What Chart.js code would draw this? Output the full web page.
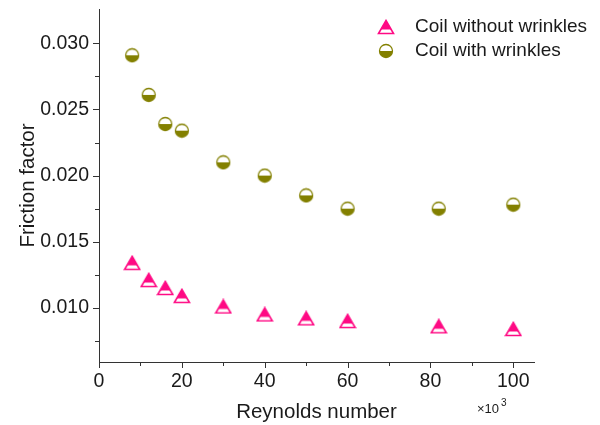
<!DOCTYPE html>
<html>
<head>
<meta charset="utf-8">
<script src="https://cdn.jsdelivr.net/npm/chart.js@4/dist/chart.umd.min.js"></script>
<style>
  html, body { margin: 0; padding: 0; background: #fff; }
  #wrap { width: 600px; height: 425px; position: relative; }
</style>
</head>
<body>
<div id="wrap"><canvas id="grafico" width="600" height="425"></canvas></div>
<script>
const reynolds = [8, 12, 16, 20, 30, 40, 50, 60, 82, 100];
const sinArrugas = [0.0134, 0.0121, 0.0115, 0.0109, 0.0101, 0.0095, 0.0092, 0.0090, 0.0086, 0.0084];
const conArrugas = [0.0291, 0.0261, 0.0239, 0.0234, 0.0210, 0.0200, 0.0185, 0.0175, 0.0175, 0.0178];
const series = ["Coil without wrinkles", "Coil with wrinkles"];

const rosa = "#ff0a84";
const oliva = "#838000";
const textoColor = "#1a1a1a";
const fuente = "'Liberation Sans', Arial, sans-serif";

// marcadores tipo Origin
function triangulo() {
  const c = document.createElement("canvas");
  c.width = 18; c.height = 16;
  const g = c.getContext("2d");
  g.beginPath();
  g.moveTo(9, 1.5); g.lineTo(16.5, 14.5); g.lineTo(1.5, 14.5); g.closePath();
  g.fillStyle = "#fff"; g.fill();
  g.save(); g.clip();
  g.fillStyle = rosa; g.fillRect(0, 0, 18, 10.5);
  g.restore();
  g.lineWidth = 1.6; g.strokeStyle = rosa; g.stroke();
  return c;
}

function mediaLuna() {
  const c = document.createElement("canvas");
  c.width = 16; c.height = 16;
  const g = c.getContext("2d");
  g.beginPath(); g.arc(8, 8, 6.5, 0, Math.PI * 2);
  g.fillStyle = "#fff"; g.fill();
  g.beginPath(); g.arc(8, 8, 6.5, 0, Math.PI);
  g.closePath(); g.fillStyle = oliva; g.fill();
  g.beginPath(); g.arc(8, 8, 6.5, 0, Math.PI * 2);
  g.lineWidth = 1.3; g.strokeStyle = oliva; g.stroke();
  return c;
}

const marcaTri = triangulo();
const marcaCirc = mediaLuna();

const toPts = (ys) => reynolds.map((x, i) => ({ x: x, y: ys[i] }));

const ticksManuales = {
  id: "ticksManuales",
  afterDraw(chart) {
    const ctx = chart.ctx;
    const xs = chart.scales.x, ys = chart.scales.y;
    const a = chart.chartArea;
    ctx.save();
    ctx.strokeStyle = "#333";
    ctx.lineWidth = 1;
    for (let v = 0; v <= 100; v += 10) {
      const px = Math.round(xs.getPixelForValue(v)) + 0.5;
      const len = v % 20 === 0 ? 6 : 4;
      ctx.beginPath(); ctx.moveTo(px, a.bottom); ctx.lineTo(px, a.bottom + len); ctx.stroke();
    }
    for (let k = 3; k <= 12; k++) {
      const v = k * 0.0025;
      if (v > ys.max) break;
      const py = Math.round(ys.getPixelForValue(v)) + 0.5;
      const len = k % 2 === 0 ? 6 : 4;
      ctx.beginPath(); ctx.moveTo(a.left, py); ctx.lineTo(a.left - len, py); ctx.stroke();
    }
    // factor de escala del eje x
    ctx.fillStyle = textoColor;
    ctx.textBaseline = "alphabetic";
    ctx.font = "13px " + fuente;
    ctx.fillText("\u00d710", 477, 413);
    ctx.font = "10px " + fuente;
    ctx.fillText("3", 501, 406);
    // leyenda
    const lx = a.left + 287, ly = a.top + 18;
    const marcas = [marcaTri, marcaCirc];
    ctx.font = "19px " + fuente;
    ctx.textBaseline = "middle";
    series.forEach((s, i) => {
      const y = ly + i * 24;
      const m = marcas[i];
      ctx.drawImage(m, lx - m.width / 2, y - m.height / 2);
      ctx.fillText(s, lx + 29, y);
    });
    ctx.restore();
  }
};

const chart = new Chart(document.getElementById("grafico").getContext("2d"), {
  type: "scatter",
  data: {
    datasets: [
      { label: series[0], data: toPts(sinArrugas), pointStyle: marcaTri, pointRadius: 8 },
      { label: series[1], data: toPts(conArrugas), pointStyle: marcaCirc, pointRadius: 8 }
    ]
  },
  options: {
    responsive: false,
    animation: false,
    events: [],
    layout: { padding: { top: 7, right: 66, left: 0, bottom: 0 } },
    plugins: { legend: { display: false }, tooltip: { enabled: false } },
    scales: {
      x: {
        type: "linear",
        min: 0,
        max: 105,
        afterFit(scale) { scale.height = 63; scale.paddingLeft = 0; scale.paddingRight = 0; },
        border: { display: true, color: "#333", width: 1 },
        grid: { display: true, drawOnChartArea: false, drawTicks: false },
        ticks: {
          stepSize: 10,
          includeBounds: false,
          padding: 8,
          maxRotation: 0,
          autoSkip: false,
          color: textoColor,
          font: { family: fuente, size: 19.5 },
          callback: (v) => (Math.round(v) % 20 === 0 ? String(Math.round(v)) : "")
        },
        title: {
          display: true,
          text: "Reynolds number",
          color: textoColor,
          font: { family: fuente, size: 20.5 },
          padding: { top: 4, bottom: 0 }
        }
      },
      y: {
        type: "linear",
        min: 0.0059,
        max: 0.0326,
        afterFit(scale) { scale.width = 99; scale.paddingTop = 0; scale.paddingBottom = 0; },
        border: { display: true, color: "#333", width: 1 },
        grid: { display: true, drawOnChartArea: false, drawTicks: false },
        ticks: {
          stepSize: 0.0025,
          includeBounds: false,
          padding: 10,
          autoSkip: false,
          color: textoColor,
          font: { family: fuente, size: 19.5 },
          callback: (v) => (Math.round(v * 10000) % 50 === 0 ? v.toFixed(3) : "")
        },
        title: {
          display: true,
          text: "Friction factor",
          color: textoColor,
          font: { family: fuente, size: 20.5 },
          padding: { top: 16, bottom: 8 }
        }
      }
    }
  },
  plugins: [ticksManuales]
});
</script>
</body>
</html>
